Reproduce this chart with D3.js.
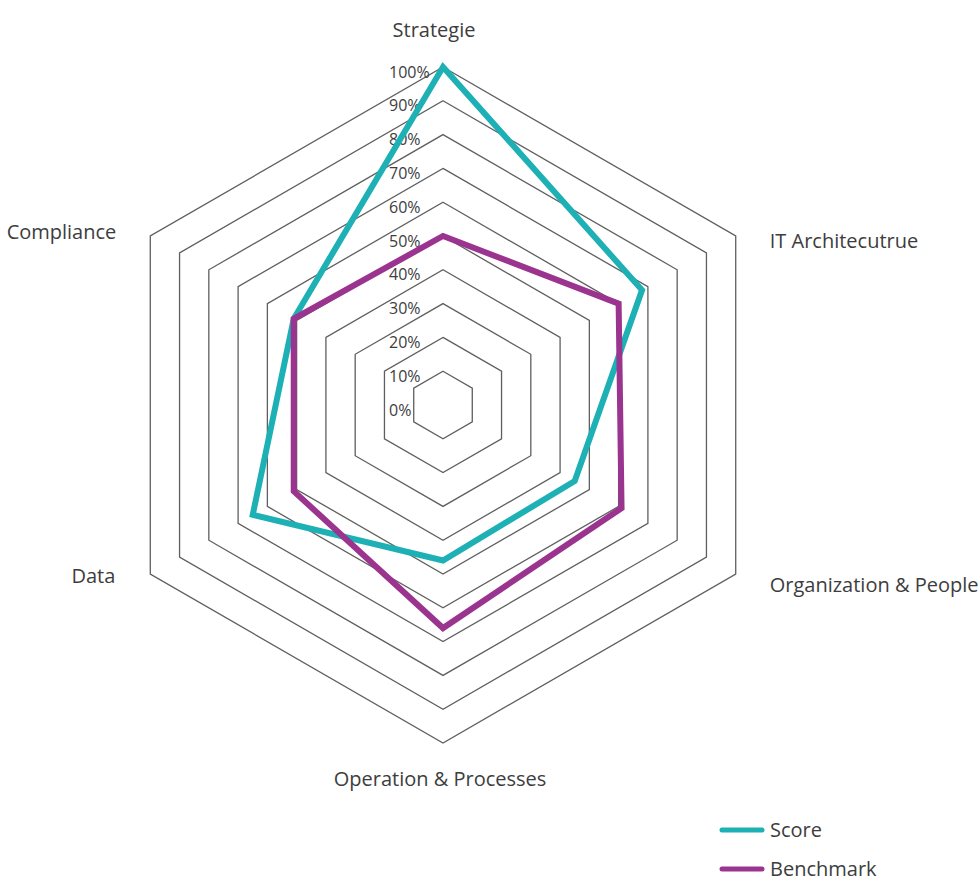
<!DOCTYPE html>
<meta charset="utf-8">
<head>
<style>
  body { margin: 0; background: #fff; }
  text { font-family: "Open Sans", sans-serif; fill: #3d3d3d; }
</style>
</head>
<body>
<script src="https://cdn.jsdelivr.net/npm/d3@7"></script>
<script>

// chart data
var axes = ["Strategie", "IT Architecutrue", "Organization & People", "Operation & Processes", "Data", "Compliance"];
var score = [100, 68, 45, 46, 65, 51];
var benchmark = [50, 60, 61, 66, 51, 51];
var levels = [10, 20, 30, 40, 50, 60, 70, 80, 90, 100];
var tickLabels = ["0%", "10%", "20%", "30%", "40%", "50%", "60%", "70%", "80%", "90%", "100%"];
var seriesNames = ["Score", "Benchmark"];
var colors = ["#1db0b5", "#9b348f"];

var width = 980, height = 881;
var cx = 443, cy = 405;

var r = d3.scaleLinear().domain([0, 100]).range([0, 338]);
var angle = d3.scaleLinear().domain([0, axes.length]).range([0, 2 * Math.PI]);

function pt(i, v) {
  var a = angle(i);
  return [Math.sin(a) * r(v), -Math.cos(a) * r(v)];
}

var svg = d3.select("body").append("svg")
    .attr("width", width)
    .attr("height", height);

var g = svg.append("g")
    .attr("transform", "translate(" + cx + "," + cy + ")");

var radarLine = d3.lineRadial()
    .angle(function(d, i) { return angle(i); })
    .radius(function(d) { return r(d); })
    .curve(d3.curveLinearClosed);

// grid hexagons
g.selectAll(".grid")
  .data(levels)
  .enter().append("path")
    .attr("class", "grid")
    .attr("fill", "none")
    .attr("stroke", "#5f5f5f")
    .attr("stroke-width", 1.3)
    .attr("d", function(l) { return radarLine(axes.map(function() { return l; })); });

// percent labels
g.selectAll(".tick")
  .data(tickLabels)
  .enter().append("text")
    .attr("class", "tick")
    .attr("x", -54)
    .attr("y", function(t, i) { return -r(i * 10) + 5; })
    .attr("dy", "0.35em")
    .style("font-size", "16px")
    .text(function(t) { return t; });

// series
var allSeries = [score, benchmark];
g.selectAll(".series")
  .data(allSeries)
  .enter().append("path")
    .attr("class", "series")
    .attr("fill", "none")
    .attr("stroke", function(d, i) { return colors[i]; })
    .attr("stroke-width", 6)
    .attr("stroke-linejoin", "miter")
    .attr("d", function(d) { return radarLine(d); });

// axis labels
var labelOffsets = [
  {dx: -9, dy: -37, anchor: "middle"},
  {dx: 34, dy: 5, anchor: "start"},
  {dx: 34, dy: 11, anchor: "start"},
  {dx: -3, dy: 36, anchor: "middle"},
  {dx: -35, dy: 2, anchor: "end"},
  {dx: -34, dy: -4, anchor: "end"}
];

g.selectAll(".axisLabel")
  .data(axes)
  .enter().append("text")
    .attr("class", "axisLabel")
    .attr("x", function(a, i) { return pt(i, 100)[0] + labelOffsets[i].dx; })
    .attr("y", function(a, i) { return pt(i, 100)[1] + labelOffsets[i].dy; })
    .attr("dy", "0.35em")
    .attr("text-anchor", function(a, i) { return labelOffsets[i].anchor; })
    .style("font-size", "20px")
    .text(function(a) { return a; });

// legend
var legend = svg.selectAll(".legend")
  .data(seriesNames)
  .enter().append("g")
    .attr("class", "legend")
    .attr("transform", function(d, i) { return "translate(722," + (830 + i * 39) + ")"; });

legend.append("line")
    .attr("x1", 0).attr("x2", 40)
    .attr("stroke", function(d, i) { return colors[i]; })
    .attr("stroke-width", 5)
    .attr("stroke-linecap", "round");

legend.append("text")
    .attr("x", 48)
    .attr("dy", "0.35em")
    .style("font-size", "20px")
    .text(function(d) { return d; });

</script>
</body>
